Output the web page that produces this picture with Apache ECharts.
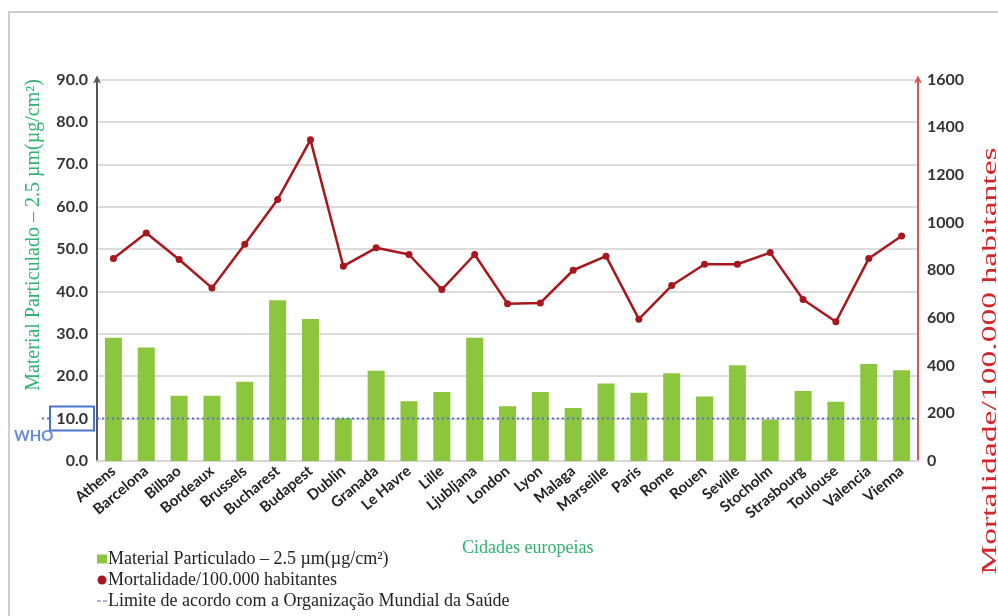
<!DOCTYPE html>
<html>
<head>
<meta charset="utf-8">
<script src="https://cdn.jsdelivr.net/npm/echarts@6/dist/echarts.min.js"></script>
<style>
  html, body { margin: 0; padding: 0; background: #fff; }
  #chart { width: 998px; height: 616px; }
</style>
</head>
<body>
<div id="chart"></div>
<script>
// European cities
const cities = ['Athens', 'Barcelona', 'Bilbao', 'Bordeaux', 'Brussels', 'Bucharest', 'Budapest',
  'Dublin', 'Granada', 'Le Havre', 'Lille', 'Ljubljana', 'London', 'Lyon', 'Malaga', 'Marseille',
  'Paris', 'Rome', 'Rouen', 'Seville', 'Stocholm', 'Strasbourg', 'Toulouse', 'Valencia', 'Vienna'];

// PM2.5 concentration (left axis)
const pm25 = [29.1, 26.8, 15.4, 15.4, 18.7, 37.9, 33.5, 10.1, 21.3, 14.1, 16.3, 29.1, 12.9,
  16.3, 12.5, 18.3, 16.1, 20.7, 15.2, 22.6, 9.7, 16.5, 14.0, 22.9, 21.4];

// Mortality per 100,000 inhabitants (right axis)
const mortality = [849, 956, 845, 726, 909, 1097, 1347, 817, 894, 866, 719, 866, 660,
  663, 800, 859, 595, 736, 825, 825, 874, 677, 584, 849, 944];

// WHO reference limit
const whoLimit = 10;

const leftTicks = { min: 0, max: 90, interval: 10 };
const rightTicks = { min: 0, max: 1600, interval: 200 };

const nameBars = 'Material Particulado – 2.5 µm(µg/cm²)';
const nameLine = 'Mortalidade/100.000 habitantes';
const nameLimit = 'Limite de acordo com a Organização Mundial da Saúde';

const serif = '"Liberation Serif", "DejaVu Serif", serif';
const sans = 'Lato, "Open Sans", sans-serif';

const chart = echarts.init(document.getElementById('chart'), null, { renderer: 'canvas' });

const option = {
  backgroundColor: '#fff',
  animation: false,
  grid: { left: 97, right: 80, top: 79.5, bottom: 155, containLabel: false, outerBoundsMode: 'none' },
  legend: {
    orient: 'vertical',
    left: 92,
    top: 545,
    itemGap: 3,
    itemWidth: 10,
    itemHeight: 9,
    symbolKeepAspect: true,
    textStyle: { fontFamily: serif, fontSize: 18, color: '#222', padding: [0, 0, 0, -4] },
    data: [
      { name: nameBars, icon: 'rect' },
      { name: nameLine, icon: 'circle' },
      { name: nameLimit, icon: 'path://M0,0h4v2h-4z M6,0h4v2h-4z' }
    ]
  },
  xAxis: {
    type: 'category',
    data: cities,
    axisLine: { show: true, lineStyle: { color: '#d6d6d6', width: 2 } },
    axisTick: { show: false },
    axisLabel: {
      interval: 0,
      rotate: 40,
      margin: 8,
      fontFamily: sans,
      fontWeight: 'bold',
      fontSize: 15,
      color: '#222'
    }
  },
  yAxis: [
    {
      type: 'value',
      position: 'left',
      min: leftTicks.min, max: leftTicks.max, interval: leftTicks.interval,
      axisLine: { show: true, symbol: ['none', 'arrow'], symbolSize: [6, 8], symbolOffset: [0, 4],
        lineStyle: { color: '#555', width: 2 } },
      axisTick: { show: false },
      axisLabel: {
        formatter: v => v.toFixed(1),
        fontFamily: sans, fontWeight: 'bold', fontSize: 16, color: '#333', margin: 9
      },
      splitLine: { show: true, lineStyle: { color: '#dcdcdc', width: 2 } }
    },
    {
      type: 'value',
      position: 'right',
      min: rightTicks.min, max: rightTicks.max, interval: rightTicks.interval,
      axisLine: { show: true, symbol: ['none', 'arrow'], symbolSize: [6, 8], symbolOffset: [0, 4],
        lineStyle: { color: '#d2585a', width: 2 } },
      axisTick: { show: false },
      axisLabel: { formatter: v => String(v), fontFamily: sans, fontWeight: 'bold', fontSize: 16,
        color: '#333', margin: 9 },
      splitLine: { show: false }
    }
  ],
  series: [
    {
      name: nameBars,
      type: 'bar',
      yAxisIndex: 0,
      data: pm25,
      barWidth: 17,
      itemStyle: { color: '#8cc63e' },
      z: 2
    },
    {
      name: nameLimit,
      type: 'line',
      yAxisIndex: 0,
      data: [],
      symbol: 'none',
      itemStyle: { color: '#aab3d6' },
      lineStyle: { color: '#aab3d6', type: 'dashed', width: 2 },
      z: 3
    },
    {
      name: nameLine,
      type: 'line',
      yAxisIndex: 1,
      data: mortality,
      symbol: 'circle',
      symbolSize: 7,
      itemStyle: { color: '#a8171d' },
      lineStyle: { color: '#a8171d', width: 2.5 },
      z: 4
    }
  ]
};

chart.setOption(option);

// Overlays positioned through the axis scales
const yLimit = chart.convertToPixel({ yAxisIndex: 0 }, whoLimit);
const xEnd = chart.convertToPixel({ xAxisIndex: 0 }, cities[cities.length - 1]) + 18;

chart.setOption({
  graphic: [
    // outer frame
    { type: 'polyline', shape: { points: [[9, 616], [9, 12], [998, 12]] },
      style: { stroke: '#cfcfcf', lineWidth: 2, fill: null }, silent: true },
    // WHO limit line
    { type: 'line', shape: { x1: 42, y1: yLimit, x2: xEnd, y2: yLimit },
      style: { stroke: '#5a6fd0', lineWidth: 2, lineDash: [2, 3] }, z: 10, silent: true },
    // box around the 10.0 tick label
    { type: 'rect', shape: { x: 50, y: yLimit - 12, width: 44, height: 24 },
      style: { stroke: '#4a74c9', lineWidth: 2, fill: 'rgba(255,255,255,0.9)' }, z: 11, silent: true },
    { type: 'text', x: 88, y: yLimit, z: 12, silent: true,
      style: { text: whoLimit.toFixed(1), fontFamily: sans, fontWeight: 'bold', fontSize: 16,
        fill: '#333', align: 'right', verticalAlign: 'middle' } },
    { type: 'text', x: 14, y: yLimit + 18, z: 12, silent: true,
      style: { text: 'WHO', fontFamily: sans, fontWeight: 'bold', fontSize: 15,
        fill: '#6b8ad0', align: 'left', verticalAlign: 'middle' } },
    // left axis caption
    { type: 'text', x: 34, y: 235, rotation: Math.PI / 2, silent: true,
      style: { text: nameBars, fontFamily: serif, fontSize: 20,
        fill: '#2fb36f', align: 'center', verticalAlign: 'middle' } },
    // x axis caption
    { type: 'text', x: 462, y: 548, silent: true,
      style: { text: 'Cidades europeias', fontFamily: serif, fontSize: 18,
        fill: '#2fb36f', align: 'left', verticalAlign: 'middle' } },
    // right axis caption
    { type: 'text', x: 990, y: 361, rotation: Math.PI / 2, scaleX: 1.6, silent: true,
      style: { text: nameLine, fontFamily: serif, fontSize: 21,
        fill: '#d2262b', align: 'center', verticalAlign: 'middle' } }
  ]
});
</script>
</body>
</html>
